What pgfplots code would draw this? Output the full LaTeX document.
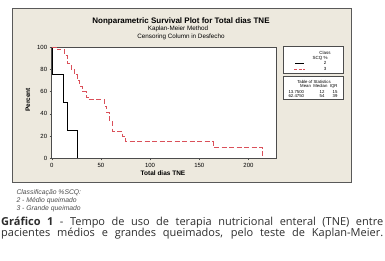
\documentclass[border=0pt]{standalone}
\usepackage{pgfplots}
\pgfplotsset{compat=1.18}
\usepackage{fontspec}
\setmainfont{Liberation Sans}
\newfontfamily\capfont{Open Sans}
\definecolor{panel}{RGB}{237,233,222}
\definecolor{kmred}{RGB}{218,80,90}
\definecolor{captext}{RGB}{45,45,45}
\begin{document}
\begin{tikzpicture}[x=1pt,y=1pt]
\path[use as bounding box] (0,0) rectangle (385,261);
\fill[panel] (12,79) rectangle (351,253);
\draw[black!65, line width=0.9pt] (12,79) rectangle (351,253);
\node[font=\bfseries\fontsize{8}{9}\selectfont] at (181,239.5) {Nonparametric Survival Plot for Total dias TNE};
\node[font=\fontsize{6.3}{7}\selectfont] at (178,231.7) {Kaplan-Meier Method};
\node[font=\fontsize{6.3}{7}\selectfont] at (181,223.7) {Censoring Column in Desfecho};
\begin{axis}[at={(51.7pt,102.7pt)}, anchor=south west, scale only axis,
  width=224.3pt, height=111.3pt, xmin=0, xmax=228, ymin=0, ymax=100,
  axis background/.style={fill=white},
  axis line style={black!70, line width=0.6pt},
  xtick={0,50,100,150,200}, ytick={0,20,40,60,80,100},
  xtick pos=left, ytick pos=left, tick align=outside,
  major tick length=2pt, tick style={black!70},
  tick label style={font=\fontsize{6}{7}\selectfont},
  /pgf/number format/assume math mode=true,
  xticklabel style={yshift=1pt}, yticklabel style={xshift=1pt},
  clip=false]
\addplot[const plot, black, line width=0.8pt] coordinates {
 (0,100) (1,75) (12,50) (16,25) (26,0)};
\addplot[const plot, kmred, line width=0.8pt, dash pattern=on 5pt off 2.5pt] coordinates {
 (0,100) (6,97.5) (13,92.5) (16,85) (20,80) (23,75) (26,70) (28,65) (31,60) (35,55)
 (37,52.5) (54,47) (56,41) (59,33) (62,24) (72,20) (75,15) (164,10) (214,0)};
\end{axis}
\node[font=\bfseries\fontsize{6.5}{7}\selectfont, rotate=90] at (28,161) {Percent};
\node[font=\bfseries\fontsize{6.5}{7}\selectfont] at (163,88.3) {Total dias TNE};
% legend box
\draw[draw=black!70, fill=white, line width=0.6pt] (283,188) rectangle (343,215);
\node[font=\fontsize{4.5}{5}\selectfont] at (325,208.3) {Class};
\node[font=\fontsize{4.5}{5}\selectfont] at (320,202.7) {SCQ \%};
\draw[black, line width=0.7pt] (295,197.7) -- (304,197.7);
\node[font=\fontsize{4.5}{5}\selectfont] at (325,197.7) {2};
\draw[kmred, line width=0.7pt, dash pattern=on 3pt off 1.5pt] (294,191.7) -- (305,191.7);
\node[font=\fontsize{4.5}{5}\selectfont] at (325,191.7) {3};
% statistics box
\draw[draw=black!70, fill=white, line width=0.6pt] (283,162) rectangle (343,184.5);
\node[font=\fontsize{4.3}{5}\selectfont] at (314,179.3) {Table of Statistics};
\node[font=\fontsize{4.3}{5}\selectfont, anchor=east] at (341,174.3) {Mean\ \ Median\ \ IQR};
\node[font=\fontsize{4.3}{5}\selectfont, anchor=west] at (285,169.3) {13.7500};
\node[font=\fontsize{4.3}{5}\selectfont, anchor=east] at (328,169.3) {12};
\node[font=\fontsize{4.3}{5}\selectfont, anchor=east] at (341,169.3) {15};
\node[font=\fontsize{4.3}{5}\selectfont, anchor=west] at (285,165) {62.4750};
\node[font=\fontsize{4.3}{5}\selectfont, anchor=east] at (328,165) {54};
\node[font=\fontsize{4.3}{5}\selectfont, anchor=east] at (341,165) {39};
% notes
\node[font=\itshape\fontsize{6.8}{7}\selectfont, text=black!70, anchor=west] at (13,68.7) {Classificação \%SCQ:};
\node[font=\itshape\fontsize{6.8}{7}\selectfont, text=black!70, anchor=west] at (13,60.3) {2 - Médio queimado};
\node[font=\itshape\fontsize{6.8}{7}\selectfont, text=black!70, anchor=west] at (13,52.7) {3 - Grande queimado};
% caption
\node[font=\capfont\fontsize{11}{11}\selectfont, text=captext, anchor=west, inner sep=0pt] at (1,38)
  {\makebox[382pt][s]{\textbf{Gráfico 1} - Tempo de uso de terapia nutricional enteral (TNE) entre}};
\node[font=\capfont\fontsize{11}{11}\selectfont, text=captext, anchor=west, inner sep=0pt] at (1,27)
  {\makebox[382pt][s]{pacientes médios e grandes queimados, pelo teste de Kaplan-Meier.}};
\end{tikzpicture}
\end{document}
